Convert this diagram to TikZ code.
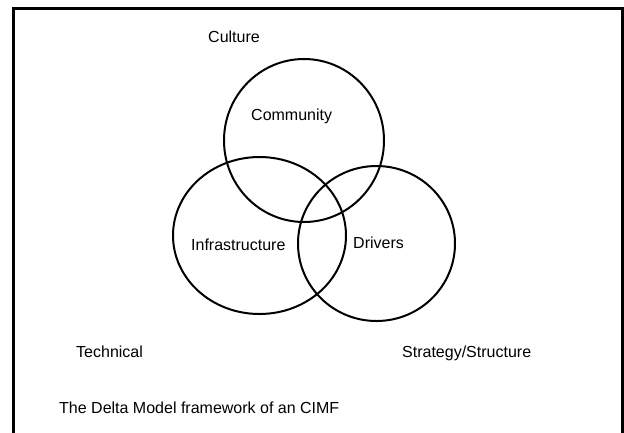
\documentclass[tikz,border=0pt]{standalone}
\usepackage{fontspec}
\setmainfont{Liberation Sans}
\begin{document}
\begin{tikzpicture}[x=1pt,y=-1pt,
  ring/.style={draw=black,line width=2pt},
  lbl/.style={inner sep=0pt,anchor=base west,font=\fontsize{16}{18}\selectfont}]
\useasboundingbox (0,0) rectangle (624,432);
\clip (0,0) rectangle (624,432);
\fill[white] (0,0) rectangle (624,432);
\draw[line width=2.6pt] (13.7,8.7) rectangle (622.6,450);
% circles
\draw[ring] (304,140.5) ellipse [x radius=80, y radius=81.5];
\draw[ring] (259.5,235.5) ellipse [x radius=86.5, y radius=78.5];
\draw[ring] (376.5,243.5) ellipse [x radius=78.5, y radius=77.5];
% labels
\node[lbl] (culture) at (208,42) {Culture};
\node[lbl] (community) at (251,120) {Community};
\node[lbl] (infra) at (191,250) {Infrastructure};
\node[lbl] (drivers) at (353,248) {Drivers};
\node[lbl] (technical) at (76,357) {Technical};
\node[lbl] (strategy) at (402,357) {Strategy/Structure};
\node[lbl] (caption) at (59,413) {The Delta Model framework of an CIMF};
\end{tikzpicture}
\end{document}
